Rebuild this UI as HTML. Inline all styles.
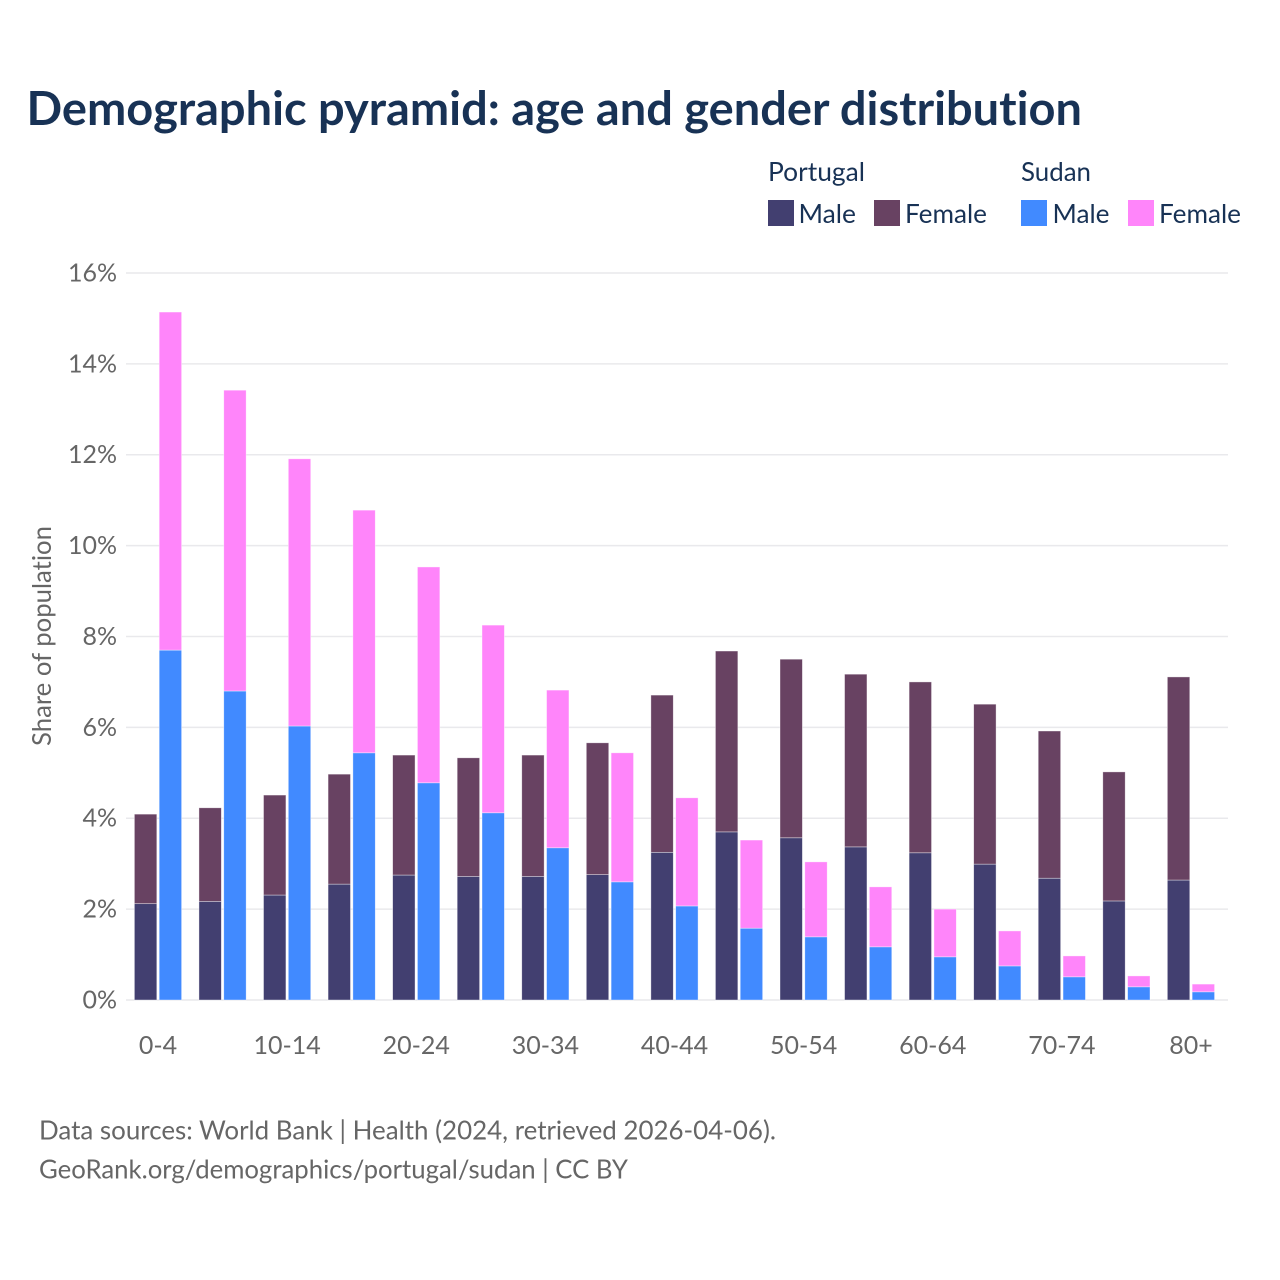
<!DOCTYPE html>
<html lang="en">
<head>
<meta charset="utf-8">
<title>Demographic pyramid</title>
<style>
html,body{margin:0;padding:0;background:#fff;width:1280px;height:1280px;overflow:hidden}
svg{display:block}
text{font-family:"Lato","Carlito","Liberation Sans",sans-serif;font-variant-ligatures:none}
</style>
</head>
<body>
<svg id="chart" xmlns="http://www.w3.org/2000/svg" width="1280" height="1280" viewBox="0 0 1280 1280">
  <rect width="1280" height="1280" fill="#fff"/>
  <text x="26.5" y="125" font-size="47" font-weight="700" fill="#183255" textLength="1055.5" lengthAdjust="spacingAndGlyphs">Demographic pyramid: age and gender distribution</text>

  <g font-size="26" fill="#183255">
    <text x="768" y="181" textLength="97" lengthAdjust="spacingAndGlyphs">Portugal</text>
    <text x="1021" y="181" textLength="70" lengthAdjust="spacingAndGlyphs">Sudan</text>
    <rect x="768" y="200" width="26" height="26" fill="#423f70"/>
    <text x="798.5" y="223" textLength="57.5" lengthAdjust="spacingAndGlyphs">Male</text>
    <rect x="874" y="200" width="26" height="26" fill="#684262"/>
    <text x="905" y="223" textLength="82" lengthAdjust="spacingAndGlyphs">Female</text>
    <rect x="1021" y="200" width="26" height="26" fill="#418aff"/>
    <text x="1052.5" y="223" textLength="57" lengthAdjust="spacingAndGlyphs">Male</text>
    <rect x="1128" y="200" width="26" height="26" fill="#ff85fa"/>
    <text x="1159" y="223" textLength="82" lengthAdjust="spacingAndGlyphs">Female</text>
  </g>

  <g id="grid"></g>
  <g id="yticks"></g>
  <g id="bars"></g>
  <g id="xticks"></g>

  <text transform="translate(51,636) rotate(-90)" text-anchor="middle" font-size="26" fill="#666666" textLength="220" lengthAdjust="spacingAndGlyphs">Share of population</text>

  <text x="39" y="1139.5" font-size="26" fill="#666666" textLength="737" lengthAdjust="spacingAndGlyphs">Data sources: World Bank | Health (2024, retrieved 2026-04-06).</text>
  <text x="39" y="1178.5" font-size="26" fill="#666666" textLength="589" lengthAdjust="spacingAndGlyphs">GeoRank.org/demographics/portugal/sudan | CC BY</text>
</svg>
<script>
const categories = ["0-4","5-9","10-14","15-19","20-24","25-29","30-34","35-39","40-44","45-49","50-54","55-59","60-64","65-69","70-74","75-79","80+"];
const tickLabels = ["0-4","","10-14","","20-24","","30-34","","40-44","","50-54","","60-64","","70-74","","80+"];
const portugalMale = [2.12,2.17,2.31,2.55,2.75,2.72,2.72,2.76,3.25,3.70,3.57,3.37,3.24,2.99,2.68,2.18,2.64];
const portugalFemale = [1.97,2.06,2.20,2.42,2.64,2.61,2.67,2.90,3.46,3.98,3.93,3.80,3.76,3.52,3.24,2.84,4.47];
const sudanMale = [7.70,6.80,6.03,5.44,4.78,4.12,3.35,2.60,2.07,1.58,1.39,1.17,0.95,0.75,0.51,0.29,0.18];
const sudanFemale = [7.44,6.62,5.88,5.34,4.75,4.13,3.47,2.84,2.38,1.94,1.65,1.32,1.05,0.77,0.46,0.24,0.17];
const yTicks = [0,2,4,6,8,10,12,14,16];

const NS = 'http://www.w3.org/2000/svg';
function yScale(v){ return 1000 - v * 45.44; }
function xCenter(i){ return 158 + i * 64.56; }
function make(tag, attrs, parent){
  const el = document.createElementNS(NS, tag);
  for (const k in attrs) el.setAttribute(k, attrs[k]);
  parent.appendChild(el);
  return el;
}

const gridG = document.getElementById('grid');
const yG = document.getElementById('yticks');
yTicks.forEach(function(t){
  const line = make('line', {x1:126, x2:1228, y1:yScale(t), y2:yScale(t), stroke:'#e9e9ec', 'stroke-width':1.5}, gridG);
  
  
  const label = make('text', {x:117, y:yScale(t)+8.5, 'text-anchor':'end', 'font-size':25, fill:'#666666'}, yG);
  
  
  label.textContent = t + '%';
});

const barsG = document.getElementById('bars');
const barWidth = 22.4;
function drawBar(x, base, value, fill, name){
  const rect = make('rect', {x:x, y:yScale(base+value), width:barWidth, height:yScale(base)-yScale(base+value), fill:fill, stroke:'#ffffff', 'stroke-opacity':0.55, 'stroke-width':0.7}, barsG);
  
  
}
categories.forEach(function(c, i){
  const cx = xCenter(i);
  const xp = cx - 23.6;
  const xs = cx + 1.2;
  drawBar(xp, 0, portugalMale[i], '#423f70', 'bar-portugal-male-' + c);
  drawBar(xp, portugalMale[i], portugalFemale[i], '#684262', 'bar-portugal-female-' + c);
  drawBar(xs, 0, sudanMale[i], '#418aff', 'bar-sudan-male-' + c);
  drawBar(xs, sudanMale[i], sudanFemale[i], '#ff85fa', 'bar-sudan-female-' + c);
});

const xG = document.getElementById('xticks');
tickLabels.forEach(function(t, i){
  if (!t) return;
  const label = make('text', {x:xCenter(i), y:1054, 'text-anchor':'middle', 'font-size':25, fill:'#666666'}, xG);
  
  
  label.textContent = t;
});
</script>
</body>
</html>
